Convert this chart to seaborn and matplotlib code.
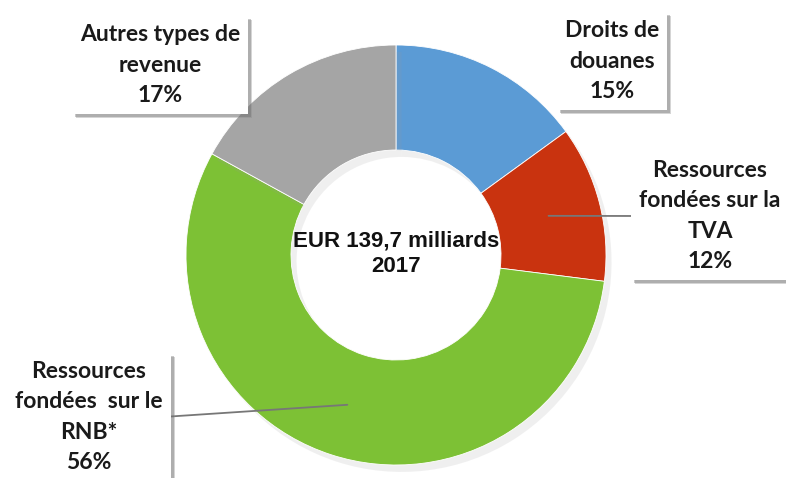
import numpy as np
import matplotlib
matplotlib.use("Agg")
import matplotlib.pyplot as plt
import matplotlib.patheffects as pe
import seaborn as sns

# ---- data ----
labels = ["Droits de\ndouanes", "Ressources\nfondées sur la\nTVA",
          "Ressources\nfondées  sur le\nRNB*", "Autres types de\nrevenue"]
values = [15, 12, 56, 17]
colors = ["#5B9BD5", "#C9330F", "#7DC135", "#A5A5A5"]
center_title = "EUR 139,7 milliards\n2017"

sns.set_theme(style="white")
plt.rcParams['font.family'] = ['Lato', 'DejaVu Sans']

W, H = 786, 478
fig = plt.figure(figsize=(W / 100, H / 100), dpi=100)
ax = fig.add_axes([0, 0, 1, 1])

cx, cy, R = 396, H - 255, 210
wedges, _ = ax.pie(values, colors=colors, startangle=90, counterclock=False,
                   center=(cx, cy), radius=R,
                   wedgeprops=dict(width=R * 0.5, edgecolor="white", linewidth=0.6))
for w in wedges:
    w.set_path_effects([pe.SimplePatchShadow(offset=(4, -5), shadow_rgbFace="#999999", alpha=0.15),
                        pe.Normal()])
ax.set_xlim(0, W)
ax.set_ylim(0, H)
ax.set_aspect("equal")
ax.axis("off")

ax.text(cx, cy + 1, center_title, ha="center", va="center", fontsize=16,
        fontweight="bold", family=["Liberation Sans", "DejaVu Sans"], linespacing=1.3,
        color="#111111")

# label placements (pixel coordinates of label centre), leader attachment side
pos = [(612, 61, None), (710, 216, (0, 0.5)), (89, 417, (1, 0.5)), (160, 65, None)]

angles = []
a0 = 90.0
for v in values:
    span = 360.0 * v / sum(values)
    angles.append(a0 - span / 2)
    a0 -= span

for lab, v, (px, py, rel), ang in zip(labels, values, pos, angles):
    txt = f"{lab}\n{v}%"
    bbox = dict(boxstyle="square,pad=0.35", fc="white", ec="none")
    kw = dict(ha="center", va="center", fontsize=16.5, fontweight="bold",
              linespacing=1.55, color="#1a1a1a", bbox=bbox)
    if rel is None:
        t = ax.text(px, H - py, txt, **kw)
    else:
        rad = np.deg2rad(ang)
        xy = (cx + 0.75 * R * np.cos(rad), cy + 0.75 * R * np.sin(rad))
        t = ax.annotate(txt, xy=xy, xytext=(px, H - py),
                        arrowprops=dict(arrowstyle="-", color="#777777", lw=1.3,
                                        shrinkA=0, shrinkB=0, relpos=rel), **kw)
    t.get_bbox_patch().set_path_effects([
        pe.SimplePatchShadow(offset=(3, -3), shadow_rgbFace="#888888", alpha=0.35),
        pe.SimplePatchShadow(offset=(2, -2), shadow_rgbFace="#666666", alpha=0.35),
        pe.Normal()])

fig.savefig("out.png", dpi=100)
